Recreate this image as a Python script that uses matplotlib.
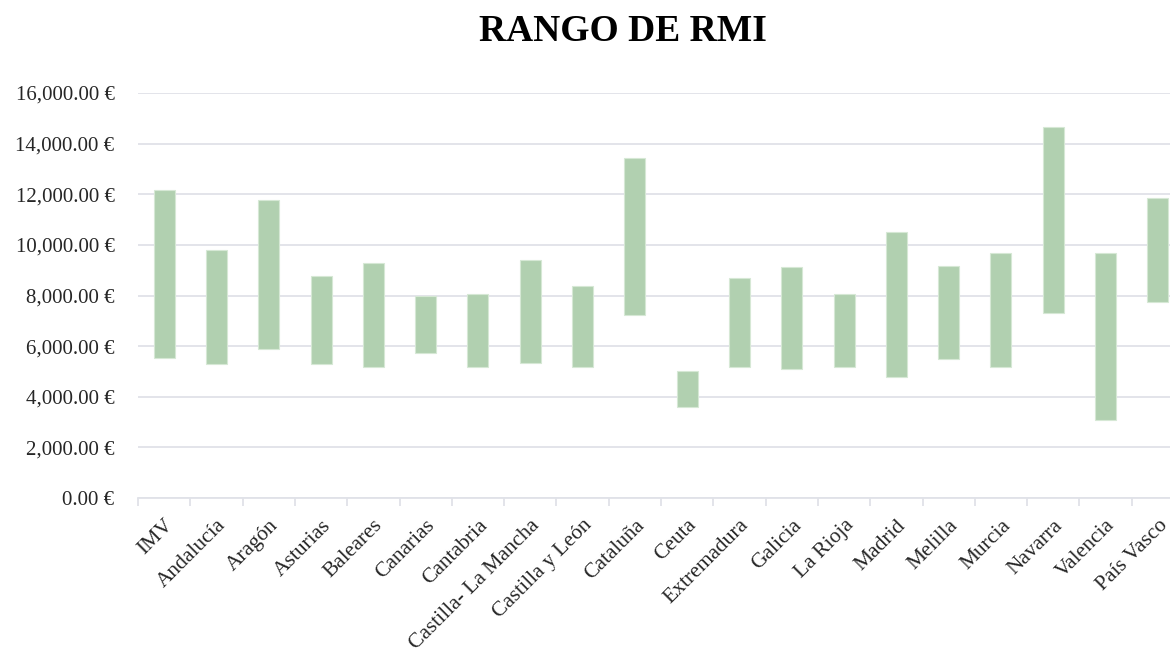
import matplotlib.pyplot as plt
import numpy as np
from matplotlib.ticker import FuncFormatter, FixedLocator

regiones = ['IMV', 'Andalucía', 'Aragón', 'Asturias', 'Baleares', 'Canarias',
            'Cantabria', 'Castilla- La Mancha', 'Castilla y León', 'Cataluña',
            'Ceuta', 'Extremadura', 'Galicia', 'La Rioja', 'Madrid', 'Melilla',
            'Murcia', 'Navarra', 'Valencia', 'País Vasco']
minimo = [5545, 5281, 5888, 5307, 5175, 5729, 5162, 5347, 5162, 7248,
          3591, 5162, 5083, 5162, 4792, 5505, 5162, 7314, 3076, 7736]
maximo = [12158, 9809, 11762, 8752, 9294, 7987, 8040, 9413, 8370, 13439,
          5017, 8686, 9135, 8040, 10495, 9149, 9663, 14653, 9690, 11842]

plt.rcParams['font.family'] = ['Liberation Serif', 'DejaVu Serif']

fig = plt.figure(figsize=(11.7, 6.53), dpi=100)
ax = fig.add_axes([138 / 1170, 1 - 498 / 653, 1046 / 1170, 405 / 653])

x = np.arange(len(regiones))
alto = np.array(maximo) - np.array(minimo)
ax.bar(x, alto, bottom=minimo, width=0.4, color='#b1d0b0',
       edgecolor='#d6e8d5', linewidth=0.8, zorder=3)

ax.set_xlim(-0.5, len(regiones) - 0.5)
ax.set_ylim(0, 16000)
ax.set_yticks(np.arange(0, 16001, 2000))
ax.yaxis.set_major_formatter(FuncFormatter(lambda v, p: f'{v:,.2f} €'))
ax.grid(axis='y', color='#e0e2e8', linewidth=1.3, zorder=0)
ax.tick_params(axis='y', length=0, labelsize=15, pad=17, colors='#262626')

ax.set_xticks(x)
ax.set_xticklabels(regiones, rotation=45, ha='right', rotation_mode='anchor',
                   fontsize=15.5, color='#262626')
ax.xaxis.set_minor_locator(FixedLocator(np.arange(-0.5, len(regiones), 1)))
ax.tick_params(axis='x', which='major', length=0, pad=13)
ax.tick_params(axis='x', which='minor', length=6, color='#e0e2e8', width=1.3)

for s in ['top', 'right', 'left']:
    ax.spines[s].set_visible(False)
ax.spines['bottom'].set_color('#e0e2e8')
ax.spines['bottom'].set_linewidth(1.3)

fig.text(0.532, 0.952, 'RANGO DE RMI', ha='center', va='center',
         fontsize=27, fontweight='bold', color='black')

fig.savefig('out.png', dpi=100)
